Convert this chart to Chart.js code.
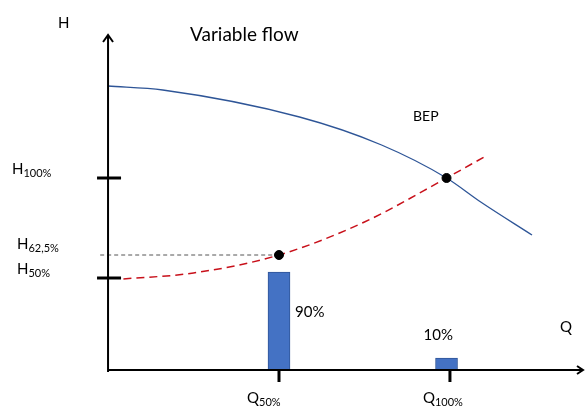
<!DOCTYPE html>
<html>
<head>
<meta charset="utf-8">
<script src="https://cdn.jsdelivr.net/npm/chart.js@4"></script>
<style>
  body { margin: 0; background: #fff; }
  #wrap { width: 585px; height: 410px; }
</style>
</head>
<body>
<div id="wrap"><canvas id="myChart"></canvas></div>
<script>
// flow Q (% of rated) and head H (% of rated)
const pumpQ = [0, 16, 56, 80, 99, 109, 124];
const pumpH = [146, 144, 130.5, 116.5, 100, 88, 71.5];

const systemQ = [4.5, 25, 50, 75, 99, 110];
const systemH = [49.5, 52.5, 61.5, 78, 100, 110.5];

const dutyQ = [50, 99];
const dutyH = [61.5, 100];

const barQ = [50, 99];
const barTop = [53, 10];
const barLabels = ['90%', '10%'];
const axisH = 4;

const hTicks = [100, 50];
const hTickLabels = ['100%', '50%'];
const qTicks = [50, 100];
const qTickLabels = ['50%', '100%'];

const font = 'Lato, "Open Sans", sans-serif';

function pairs(xs, ys) {
    return xs.map((x, i) => ({ x: x, y: ys[i] }));
}

function subText(ctx, main, sub, x, y, size) {
    ctx.font = size + 'px ' + font;
    ctx.fillText(main, x, y);
    let w = ctx.measureText(main).width;
    ctx.font = Math.round(size * 0.7) + 'px ' + font;
    ctx.fillText(sub, x + w, y + 3);
}

const decor = {
    id: 'decor',
    afterDatasetsDraw(chart) {
        const ctx = chart.ctx;
        const X = v => chart.scales.x.getPixelForValue(v);
        const Y = v => chart.scales.y.getPixelForValue(v);
        const ox = X(0), oy = Y(axisH);
        const top = 35, right = 583;

        ctx.save();
        ctx.strokeStyle = '#000';
        ctx.lineWidth = 2;
        ctx.beginPath();
        ctx.moveTo(ox, oy + 2);
        ctx.lineTo(ox, top);
        ctx.moveTo(ox - 5, top + 7);
        ctx.lineTo(ox, top);
        ctx.lineTo(ox + 5, top + 7);
        ctx.moveTo(ox, oy);
        ctx.lineTo(right, oy);
        ctx.moveTo(right - 6, oy - 4);
        ctx.lineTo(right, oy);
        ctx.lineTo(right - 6, oy + 4);
        ctx.stroke();

        ctx.lineWidth = 3;
        hTicks.forEach(h => {
            ctx.beginPath();
            ctx.moveTo(ox - 11, Y(h));
            ctx.lineTo(ox + 13, Y(h));
            ctx.stroke();
        });
        qTicks.forEach(q => {
            ctx.beginPath();
            ctx.moveTo(X(q), oy);
            ctx.lineTo(X(q), oy + 12);
            ctx.stroke();
        });

        ctx.fillStyle = '#000';
        ctx.textBaseline = 'alphabetic';
        subText(ctx, 'H', hTickLabels[0], 12, Y(hTicks[0]) - 4, 15);
        subText(ctx, 'H', '62,5%', 17, Y(dutyH[0]) - 6, 15);
        subText(ctx, 'H', hTickLabels[1], 17, Y(hTicks[1]) - 4, 15);
        subText(ctx, 'Q', qTickLabels[0], X(qTicks[0]) - 32, 403, 15);
        subText(ctx, 'Q', qTickLabels[1], X(qTicks[1]) - 27, 403, 15);

        ctx.font = '15px ' + font;
        ctx.fillText('H', 58, 28);
        ctx.fillText('Q', 560, 332);
        ctx.font = '14px ' + font;
        ctx.fillText('BEP', 413, 121);
        ctx.font = '19px ' + font;
        ctx.fillText('Variable flow', 190, 41);

        ctx.font = '15px ' + font;
        ctx.fillText(barLabels[0], X(barQ[0]) + 16, 317);
        ctx.fillText(barLabels[1], X(barQ[1]) - 23, 340);
        ctx.restore();
    }
};

const config = {
    type: 'bar',
    data: {
        datasets: [
            {
                type: 'line',
                label: 'Pump curve',
                data: pairs(pumpQ, pumpH),
                borderColor: '#2E5597',
                borderWidth: 1.3,
                pointRadius: 0,
                cubicInterpolationMode: 'monotone',
                order: 2
            },
            {
                type: 'line',
                label: 'System curve',
                data: pairs(systemQ, systemH),
                borderColor: '#C8101A',
                borderWidth: 1.5,
                borderDash: [8, 5],
                pointRadius: 0,
                cubicInterpolationMode: 'monotone',
                order: 1
            },
            {
                type: 'line',
                label: 'H62,5',
                data: [{ x: -2.3, y: dutyH[0] }, { x: dutyQ[0], y: dutyH[0] }],
                borderColor: '#555',
                borderWidth: 1,
                borderDash: [4, 3],
                pointRadius: 0,
                order: 3
            },
            {
                type: 'line',
                label: 'Duty points',
                data: pairs(dutyQ, dutyH),
                showLine: false,
                pointRadius: 4.5,
                pointBackgroundColor: '#000',
                pointBorderColor: '#000',
                order: 0
            },
            {
                label: 'Time share',
                data: barQ.map((q, i) => ({ x: q, y: [axisH, barTop[i]] })),
                backgroundColor: '#4472C4',
                borderColor: '#2F5597',
                borderWidth: 1,
                borderSkipped: false,
                barThickness: 22,
                order: 4
            }
        ]
    },
    options: {
        responsive: true,
        maintainAspectRatio: false,
        animation: false,
        layout: { padding: 0, autoPadding: false },
        plugins: { legend: { display: false }, tooltip: { enabled: false } },
        scales: {
            x: { type: 'linear', min: -31.6, max: 139.5, offset: false, display: false },
            y: { type: 'linear', min: -16, max: 189, display: false }
        }
    },
    plugins: [decor]
};

var myChart = new Chart(document.getElementById('myChart'), config);
</script>
</body>
</html>
